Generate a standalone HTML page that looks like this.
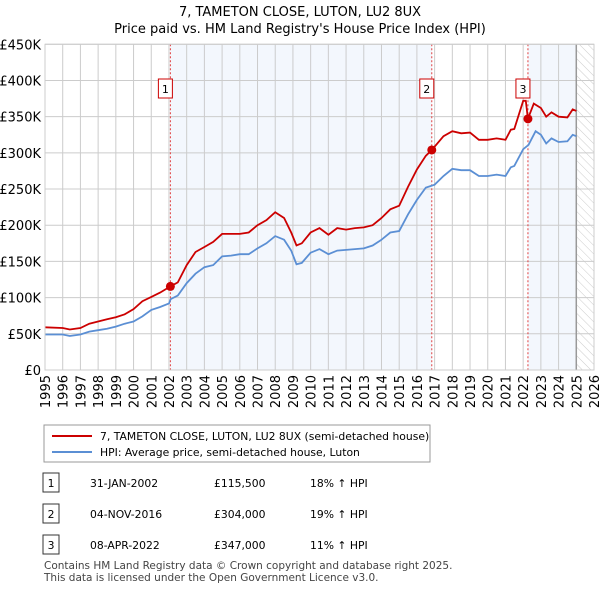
<!DOCTYPE html>
<html><head><meta charset="utf-8"><style>
body{margin:0;background:#fff;font-family:"Liberation Sans","DejaVu Sans",sans-serif;}
svg text{font-family:"DejaVu Sans","Liberation Sans",sans-serif;}
</style></head><body>
<svg width="600" height="590" xmlns="http://www.w3.org/2000/svg" id="chart">
<defs><pattern id="hatch" width="6" height="6" patternUnits="userSpaceOnUse" patternTransform="rotate(-45)"><line x1="0" y1="0" x2="0" y2="6" stroke="#ccc" stroke-width="1"/></pattern></defs>
<text x="300" y="16" text-anchor="middle" font-size="13">7, TAMETON CLOSE, LUTON, LU2 8UX</text>
<text x="300" y="33" text-anchor="middle" font-size="13">Price paid vs. HM Land Registry's House Price Index (HPI)</text>
<g id="plot"></g>
<g id="legend">
<rect x="44" y="425" width="386" height="37" fill="#fff" stroke="#999"/>
<line x1="52" y1="436" x2="92" y2="436" stroke="#cc0000" stroke-width="2"/>
<text x="100" y="440" font-size="10.8">7, TAMETON CLOSE, LUTON, LU2 8UX (semi-detached house)</text>
<line x1="52" y1="452" x2="92" y2="452" stroke="#5b8fd4" stroke-width="2"/>
<text x="100" y="456" font-size="10.8">HPI: Average price, semi-detached house, Luton</text>
</g>
<g id="table" font-size="10.8"></g>
<text x="44" y="569" font-size="10.5" fill="#444">Contains HM Land Registry data © Crown copyright and database right 2025.</text>
<text x="44" y="581" font-size="10.5" fill="#444">This data is licensed under the Open Government Licence v3.0.</text>
</svg>
<script>
const hpiYears=[1995,1996,1996.4,1997,1997.5,1998,1998.5,1999,1999.5,2000,2000.5,2001,2001.5,2002,2002.1,2002.5,2003,2003.5,2004,2004.5,2005,2005.5,2006,2006.5,2007,2007.5,2008,2008.5,2008.9,2009.2,2009.5,2010,2010.5,2011,2011.5,2012,2012.5,2013,2013.5,2014,2014.5,2015,2015.5,2016,2016.5,2017,2017.5,2018,2018.5,2019,2019.5,2020,2020.5,2021,2021.3,2021.5,2022,2022.3,2022.7,2023,2023.3,2023.6,2024,2024.5,2024.8,2025];
const hpiValues=[49,49,47,49,53,55,57,60,64,67,74,83,87,92,98,103,120,133,142,145,157,158,160,160,168,175,185,180,165,146,148,162,167,160,165,166,167,168,172,180,190,192,215,235,252,256,268,278,276,276,268,268,270,268,280,282,305,311,330,325,313,320,315,316,325,323];
const propYears=[1995,1996,1996.4,1997,1997.5,1998,1998.5,1999,1999.5,2000,2000.5,2001,2001.5,2002.08,2002.5,2003,2003.5,2004,2004.5,2005,2005.5,2006,2006.5,2007,2007.5,2008,2008.5,2008.9,2009.2,2009.5,2010,2010.5,2011,2011.5,2012,2012.5,2013,2013.5,2014,2014.5,2015,2015.5,2016,2016.5,2016.84,2017.5,2018,2018.5,2019,2019.5,2020,2020.5,2021,2021.3,2021.5,2022,2022.15,2022.27,2022.6,2023,2023.3,2023.6,2024,2024.5,2024.8,2025];
const propValues=[59,58,56,58,64,67,70,73,77,84,95,101,107,115.5,121,145,163,170,177,188,188,188,190,200,207,218,210,190,172,175,190,196,187,196,194,196,197,200,210,222,227,253,277,296,304,323,330,327,328,318,318,320,318,332,333,372,372,347,368,362,350,356,350,349,360,358];
const saleYears=[2002.08,2016.84,2022.27];
const saleValues=[115.5,304,347];
const saleLabels=["1","2","3"];
const saleDates=["31-JAN-2002","04-NOV-2016","08-APR-2022"];
const salePrices=["£115,500","£304,000","£347,000"];
const saleHpi=["18% ↑ HPI","19% ↑ HPI","11% ↑ HPI"];
const yTicks=[0,50,100,150,200,250,300,350,400,450];
const yTickLabels=["£0","£50K","£100K","£150K","£200K","£250K","£300K","£350K","£400K","£450K"];
const xTicks=[1995,1996,1997,1998,1999,2000,2001,2002,2003,2004,2005,2006,2007,2008,2009,2010,2011,2012,2013,2014,2015,2016,2017,2018,2019,2020,2021,2022,2023,2024,2025,2026];

const NS="http://www.w3.org/2000/svg";
const X0=45,X1=594,Y0=370,Y1=44.3;
const xs=y=>X0+(y-1995)/(2026-1995)*(X1-X0);
const ys=v=>Y0-v/450*(Y0-Y1);
const plot=document.getElementById('plot');
function mk(tag,attrs,parent){const e=document.createElementNS(NS,tag);for(const k in attrs)e.setAttribute(k,attrs[k]);(parent||plot).appendChild(e);return e;}
let e;
e=mk('rect',{x:xs(saleYears[0]),y:Y1,width:xs(saleYears[1])-xs(saleYears[0]),height:Y0-Y1,fill:'#eef3fc',opacity:0.7});


e=mk('rect',{x:xs(saleYears[2]),y:Y1,width:xs(2025)-xs(saleYears[2]),height:Y0-Y1,fill:'#eef3fc',opacity:0.7});


e=mk('rect',{x:xs(2025),y:Y1,width:X1-xs(2025),height:Y0-Y1,fill:'url(#hatch)'});


yTicks.forEach((t,i)=>{
 e=mk('line',{x1:X0,x2:X1,y1:ys(t),y2:ys(t),stroke:'#ccc'});
 
 
 e=mk('text',{x:X0-4,y:ys(t)+5,'text-anchor':'end','font-size':'13'});e.textContent=yTickLabels[i];
 
 
});
xTicks.forEach(t=>{
 e=mk('line',{x1:xs(t),x2:xs(t),y1:Y1,y2:Y0,stroke:'#ccc'});
 
 
 e=mk('text',{x:0,y:0,'text-anchor':'end','font-size':'13',transform:`translate(${xs(t)+5},${Y0+5}) rotate(-90)`});e.textContent=t;
 
 
});
e=mk('line',{x1:xs(2025),x2:xs(2025),y1:Y1,y2:Y0,stroke:'#999','stroke-width':1.5});


saleYears.forEach((y,i)=>{
 e=mk('line',{x1:xs(y),x2:xs(y),y1:Y1,y2:Y0,stroke:'#e04040','stroke-dasharray':'2,2'});
 
 
});
const path=(xa,va)=>xa.map((y,i)=>(i?'L':'M')+xs(y).toFixed(1)+','+ys(va[i]).toFixed(1)).join('');
e=mk('path',{d:path(hpiYears,hpiValues),fill:'none',stroke:'#5b8fd4','stroke-width':1.8});


e=mk('path',{d:path(propYears,propValues),fill:'none',stroke:'#cc0000','stroke-width':1.8});


saleYears.forEach((y,i)=>{
 e=mk('circle',{cx:xs(y),cy:ys(saleValues[i]),r:4.5,fill:'#cc0000'});
 
 
 e=mk('rect',{x:xs(y)-12,y:79,width:14,height:19,fill:'#fff',stroke:'#cc0000'});
 
 
 e=mk('text',{x:xs(y)-5,y:93,'text-anchor':'middle','font-size':'11'});e.textContent=saleLabels[i];
 
 
});
mk('rect',{x:X0,y:Y1,width:X1-X0,height:Y0-Y1,fill:'none',stroke:'#ccc'});
const tbl=document.getElementById('table');
const rowY=[483,514,545];
saleLabels.forEach((l,i)=>{
 const g=mk('g',{},tbl);
 
 
 mk('rect',{x:43,y:rowY[i]-10,width:16,height:19,fill:'#fff',stroke:'#333'},g);
 const t=[[l,51,'middle'],[saleDates[i],90,'start'],[salePrices[i],214,'start'],[saleHpi[i],310,'start']];
 t.forEach(c=>{const x=mk('text',{x:c[1],y:rowY[i]+4,'text-anchor':c[2],'font-size':'10.8'},g);x.textContent=c[0];});
});
</script>
</body></html>
